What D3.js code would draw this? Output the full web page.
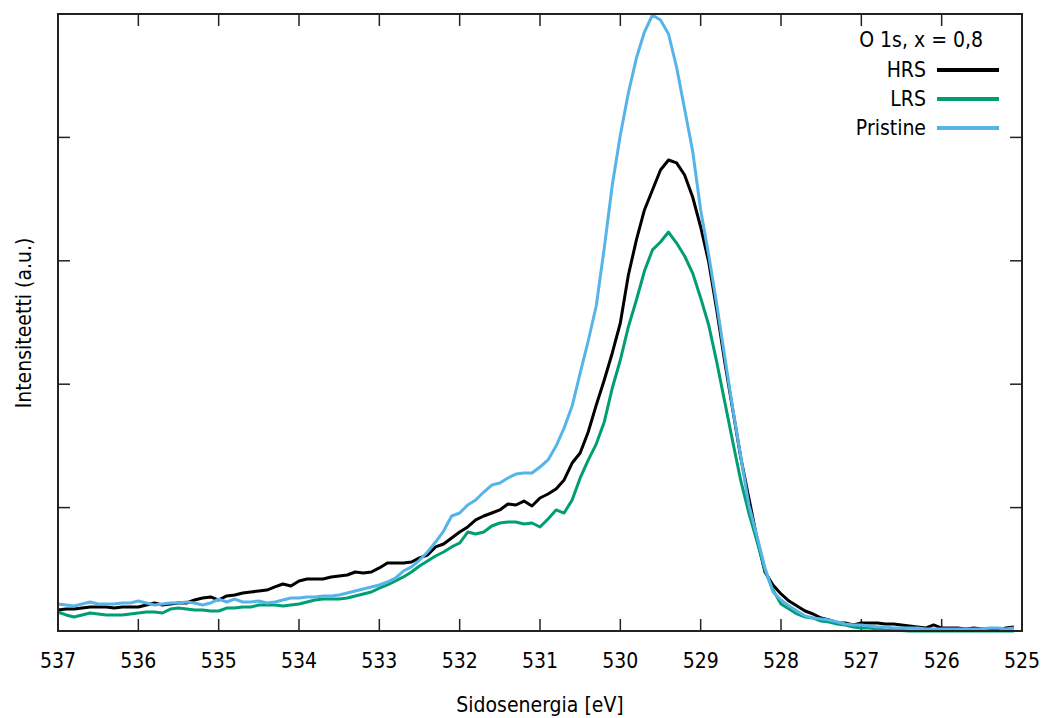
<!DOCTYPE html>
<html><head><meta charset="utf-8">
<script src="https://cdn.jsdelivr.net/npm/d3@7"></script>
<style>body{margin:0;background:#fff}svg{display:block}text{font-family:"DejaVu Sans Condensed","DejaVu Sans",sans-serif;font-stretch:condensed;fill:#000}</style>
</head><body><svg id="c" width="1045" height="718"></svg>
<script>
// binding energy: 537.0 down to 525.1 in 0.1 eV steps
const energyStart = 537.0, energyStep = 0.1;
const hrs = [0.170,0.178,0.178,0.186,0.194,0.194,0.194,0.186,0.194,0.194,
0.194,0.211,0.227,0.211,0.219,0.227,0.227,0.251,0.267,0.276,
0.251,0.284,0.292,0.308,0.316,0.324,0.332,0.357,0.381,0.365,
0.405,0.421,0.421,0.421,0.438,0.446,0.454,0.478,0.470,0.478,
0.511,0.551,0.551,0.551,0.559,0.592,0.616,0.681,0.705,0.754,
0.802,0.843,0.900,0.932,0.956,0.981,1.029,1.021,1.053,1.013,
1.078,1.110,1.151,1.224,1.361,1.442,1.613,1.831,2.034,2.253,
2.496,2.885,3.169,3.412,3.574,3.736,3.817,3.793,3.695,3.517,
3.274,2.990,2.601,2.180,1.791,1.402,1.078,0.754,0.478,0.373,
0.300,0.243,0.203,0.162,0.138,0.105,0.089,0.065,0.065,0.049,
0.065,0.065,0.065,0.057,0.057,0.049,0.041,0.032,0.024,0.049,
0.024,0.024,0.024,0.016,0.024,0.016,0.016,0.008,0.024,0.032];
const lrs = [0.154,0.130,0.113,0.130,0.146,0.138,0.130,0.130,0.130,0.138,
0.146,0.154,0.154,0.146,0.178,0.186,0.178,0.170,0.170,0.162,
0.162,0.186,0.186,0.194,0.194,0.211,0.211,0.211,0.203,0.211,
0.219,0.235,0.251,0.259,0.259,0.259,0.267,0.284,0.300,0.316,
0.348,0.373,0.405,0.438,0.478,0.527,0.567,0.608,0.640,0.681,
0.713,0.802,0.786,0.802,0.851,0.875,0.883,0.883,0.867,0.875,
0.843,0.908,0.981,0.956,1.062,1.240,1.385,1.515,1.694,1.969,
2.196,2.464,2.682,2.917,3.088,3.152,3.233,3.144,3.039,2.901,
2.699,2.480,2.180,1.856,1.532,1.216,0.956,0.729,0.494,0.332,
0.219,0.178,0.138,0.113,0.105,0.081,0.073,0.057,0.049,0.032,
0.024,0.024,0.016,0.008,0.004,0.004,0.000,0.000,0.000,0.000,
0.000,0.000,0.000,0.000,0.000,0.000,0.000,0.000,0.000,0.000];
const pristine = [0.219,0.211,0.203,0.219,0.235,0.219,0.219,0.219,0.227,0.227,
0.243,0.227,0.211,0.219,0.227,0.227,0.235,0.227,0.211,0.227,
0.259,0.235,0.259,0.235,0.235,0.243,0.227,0.235,0.251,0.267,
0.267,0.276,0.276,0.284,0.284,0.292,0.308,0.324,0.340,0.357,
0.373,0.397,0.429,0.486,0.519,0.575,0.640,0.721,0.810,0.932,
0.956,1.021,1.062,1.126,1.183,1.199,1.240,1.272,1.280,1.280,
1.329,1.386,1.499,1.645,1.823,2.090,2.350,2.634,3.104,3.614,
4.020,4.360,4.643,4.854,4.992,4.951,4.838,4.570,4.230,3.890,
3.412,3.047,2.650,2.221,1.799,1.410,1.021,0.770,0.511,0.316,
0.251,0.203,0.162,0.122,0.105,0.097,0.089,0.073,0.057,0.049,
0.049,0.041,0.032,0.032,0.024,0.024,0.024,0.024,0.016,0.016,
0.016,0.016,0.016,0.016,0.016,0.016,0.024,0.024,0.016,0.024];
const xTicks = [537,536,535,534,533,532,531,530,529,528,527,526,525];
const yTicks = [0,1,2,3,4,5];
const seriesNames = ["HRS","LRS","Pristine"];
const seriesColors = ["#000000","#009e73","#56b4e9"];
const legendTitle = "O 1s, x = 0,8";
const xLabel = "Sidosenergia [eV]";
const yLabel = "Intensiteetti (a.u.)";

const svg = d3.select("#c");
const L=58, R=1022, T=14, B=631;
const x = d3.scaleLinear().domain([537,525]).range([L,R]);
const y = d3.scaleLinear().domain([0,5]).range([B,T]);
const series = [hrs,lrs,pristine];

const tickLen = 12;
const g = svg.append("g");
// ticks
xTicks.forEach(t=>{
  g.append("line").attr("x1",x(t)).attr("x2",x(t)).attr("y1",B).attr("y2",B-tickLen).attr("stroke","#222").attr("stroke-width",1.5);
  g.append("line").attr("x1",x(t)).attr("x2",x(t)).attr("y1",T).attr("y2",T+tickLen).attr("stroke","#222").attr("stroke-width",1.5);
  g.append("text").attr("x",x(t)).attr("y",668).attr("text-anchor","middle").attr("font-size",21).text(t);
});
yTicks.forEach(t=>{
  g.append("line").attr("x1",L).attr("x2",L+tickLen).attr("y1",y(t)).attr("y2",y(t)).attr("stroke","#222").attr("stroke-width",1.5);
  g.append("line").attr("x1",R).attr("x2",R-tickLen).attr("y1",y(t)).attr("y2",y(t)).attr("stroke","#222").attr("stroke-width",1.5);
});

const line = d3.line().x((d,i)=>x(energyStart - i*energyStep)).y(d=>y(d));
series.forEach((s,k)=>{
  svg.append("path").datum(s).attr("d",line).attr("fill","none")
    .attr("stroke",seriesColors[k]).attr("stroke-width",3).attr("stroke-linejoin","round");
});

// frame
svg.append("rect").attr("x",L).attr("y",T).attr("width",R-L).attr("height",B-T)
  .attr("fill","none").attr("stroke","#222").attr("stroke-width",2);

// legend
svg.append("text").attr("x",983).attr("y",47).attr("text-anchor","end").attr("font-size",21).text(legendTitle);
seriesNames.forEach((n,k)=>{
  const yy = 70 + k*29;
  svg.append("text").attr("x",926).attr("y",yy+7).attr("text-anchor","end").attr("font-size",21).text(n);
  svg.append("line").attr("x1",937).attr("x2",999).attr("y1",yy).attr("y2",yy)
    .attr("stroke",seriesColors[k]).attr("stroke-width",4);
});

// axis titles
svg.append("text").attr("x",(L+R)/2).attr("y",712).attr("text-anchor","middle").attr("font-size",21).text(xLabel);
svg.append("text").attr("transform","translate(31,323) rotate(-90)").attr("text-anchor","middle").attr("font-size",21).text(yLabel);
</script></body></html>
